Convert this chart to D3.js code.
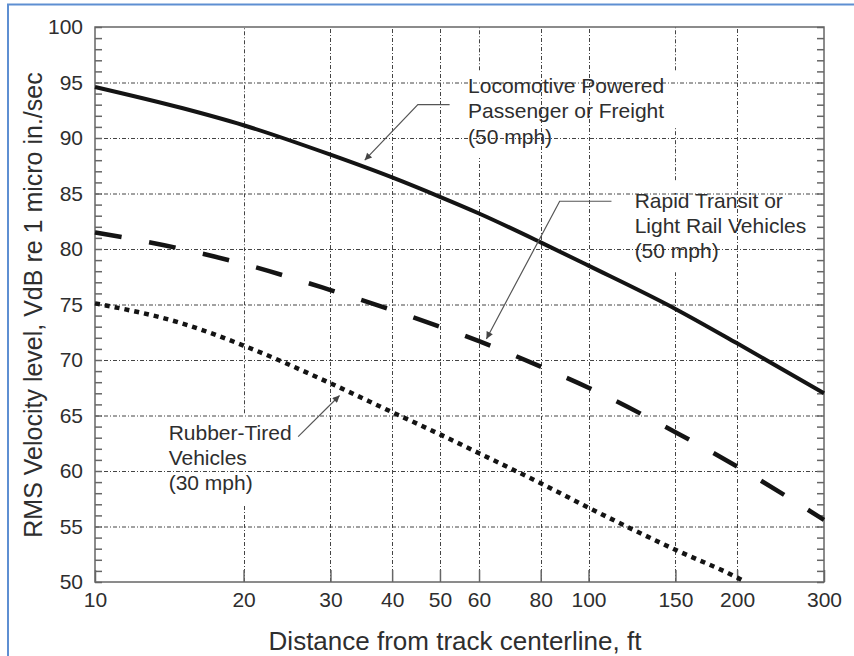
<!DOCTYPE html>
<html>
<head>
<meta charset="utf-8">
<script src="https://cdn.jsdelivr.net/npm/d3@7"></script>
<style>
  body { margin: 0; background: #fff; }
  svg { display: block; font-family: "Liberation Sans", Arial, sans-serif; }
</style>
</head>
<body>
<svg id="chart"></svg>
<script>
// values
const distances = [10, 15, 20, 30, 40, 50, 60, 80, 100, 150, 200, 300];
const locomotive = [94.6, 92.7, 91.15, 88.5, 86.45, 84.7, 83.2, 80.6, 78.5, 74.6, 71.5, 67.0];
const rapidTransit = [81.5, 80.0, 78.65, 76.3, 74.5, 73.0, 71.7, 69.4, 67.5, 63.5, 60.4, 55.6];
const rubberDistances = [10, 15, 20, 30, 40, 50, 60, 80, 100, 150, 200, 208];
const rubberTired = [75.1, 73.3, 71.3, 67.9, 65.3, 63.3, 61.6, 58.9, 56.7, 52.9, 50.4, 50.0];

const xTicks = [10, 20, 30, 40, 50, 60, 80, 100, 150, 200, 300];
const yTicks = [50, 55, 60, 65, 70, 75, 80, 85, 90, 95, 100];
const xGrid = [20, 30, 40, 50, 60, 80, 100, 150, 200];
const yGrid = [55, 60, 65, 70, 75, 80, 85, 90, 95];
// pieces of the vertical grid that are blank in the original
const gridGaps = [
    { x: 60, from: 96.1, to: 88.2 },
    { x: 150, from: 96.1, to: 90.9 },
    { x: 150, from: 86.2, to: 77.9 },
    { x: 20, from: 65.2, to: 56.9 }
];

const xTitle = 'Distance from track centerline, ft';
const yTitle = 'RMS Velocity level, VdB re 1 micro in./sec';

const labels = [
    { lines: ['Locomotive Powered', 'Passenger or Freight', '(50 mph)'], x: 57, y: 94.7 },
    { lines: ['Rapid Transit or', 'Light Rail Vehicles', '(50 mph)'], x: 124, y: 84.4 },
    { lines: ['Rubber-Tired', 'Vehicles', '(30 mph)'], x: 14.1, y: 63.5 }
];
const leaders = [
    [[52.3, 93.0], [45.1, 93.0], [35.2, 88.0]],
    [[111.3, 84.3], [87.4, 84.3], [62.1, 71.9]],
    [[25.8, 63.1], [31.3, 66.8]]
];

const width = 854, height = 656;
const margin = { top: 27, right: 30, bottom: 74, left: 95 };
const innerW = width - margin.left - margin.right;
const innerH = height - margin.top - margin.bottom;
const textColor = '#2e2e2e';

const svg = d3.select('#chart')
    .attr('width', width)
    .attr('height', height);

// light blue page border
svg.append('path')
    .attr('d', 'M8,656 L8,4.5 L854,4.5')
    .attr('fill', 'none')
    .attr('stroke', '#5e8fd2')
    .attr('stroke-width', 2);

const chart = svg.append('g')
    .attr('transform', `translate(${margin.left},${margin.top})`);

const xscale = d3.scaleLog().domain([10, 300]).range([0, innerW]);
const yscale = d3.scaleLinear().domain([50, 100]).range([innerH, 0]);

// grid
const gridStyle = g => g
    .attr('stroke', '#444')
    .attr('stroke-width', 1)
    .attr('stroke-dasharray', '4,2,1,2')
    .attr('fill', 'none');

chart.append('g').call(gridStyle)
    .selectAll('line')
    .data(yGrid)
    .join('line')
    .attr('x1', 0)
    .attr('x2', innerW)
    .attr('y1', d => yscale(d) + 0.5)
    .attr('y2', d => yscale(d) + 0.5);

const vSegments = [];
xGrid.forEach(x => {
    const gaps = gridGaps.filter(g => g.x === x).sort((a, b) => a.to - b.to);
    let lo = 50;
    gaps.forEach(g => {
        vSegments.push({ x: x, lo: lo, hi: g.to });
        lo = g.from;
    });
    vSegments.push({ x: x, lo: lo, hi: 100 });
});

chart.append('g').call(gridStyle)
    .selectAll('line')
    .data(vSegments)
    .join('line')
    .attr('x1', d => Math.round(xscale(d.x)) + 0.5)
    .attr('x2', d => Math.round(xscale(d.x)) + 0.5)
    .attr('y1', d => yscale(d.lo))
    .attr('y2', d => yscale(d.hi));

// axes
const minor = d3.range(50, 101, 1);
const yaxis = d3.axisLeft(yscale)
    .tickValues(minor)
    .tickSize(-7)
    .tickPadding(12)
    .tickFormat(d => yTicks.includes(d) ? d : '');
const yaxisRight = d3.axisRight(yscale)
    .tickValues(minor)
    .tickSize(-7)
    .tickFormat('');
const xaxis = d3.axisBottom(xscale)
    .tickValues(xTicks)
    .tickSize(-12)
    .tickPadding(10)
    .tickFormat(d3.format('d'));

const styleAxis = g => {
    g.select('.domain').remove();
    g.selectAll('.tick line').attr('stroke', '#666').attr('stroke-width', 1.5);
    g.selectAll('.tick text')
        .attr('fill', textColor)
        .style('font-size', '21px');
};

chart.append('g').call(yaxis).call(styleAxis);
chart.append('g').attr('transform', `translate(${innerW},0)`).call(yaxisRight).call(styleAxis);
chart.append('g').attr('transform', `translate(0,${innerH})`).call(xaxis).call(styleAxis);

chart.append('rect')
    .attr('width', innerW)
    .attr('height', innerH)
    .attr('fill', 'none')
    .attr('stroke', '#666')
    .attr('stroke-width', 1.5);

// curves
const line = d3.line()
    .x(d => xscale(d[0]))
    .y(d => yscale(d[1]))
    .curve(d3.curveMonotoneX);

const series = [
    { pts: d3.zip(distances, locomotive), dash: null, w: 4 },
    { pts: d3.zip(distances, rapidTransit), dash: '27,28', w: 4.5 },
    { pts: d3.zip(rubberDistances, rubberTired), dash: '5,5', w: 4.5 }
];

chart.selectAll('.series')
    .data(series)
    .join('path')
    .attr('class', 'series')
    .attr('d', d => line(d.pts))
    .attr('fill', 'none')
    .attr('stroke', '#141414')
    .attr('stroke-width', d => d.w)
    .attr('stroke-dasharray', d => d.dash);

// annotations
svg.append('defs').append('marker')
    .attr('id', 'arrow')
    .attr('viewBox', '0 0 10 10')
    .attr('refX', 10)
    .attr('refY', 5)
    .attr('markerWidth', 10)
    .attr('markerHeight', 7)
    .attr('markerUnits', 'userSpaceOnUse')
    .attr('orient', 'auto')
    .append('path')
    .attr('d', 'M0,0 L10,5 L0,10 Z')
    .attr('fill', '#444');

const leaderLine = d3.line()
    .x(d => xscale(d[0]))
    .y(d => yscale(d[1]));

chart.selectAll('.leader')
    .data(leaders)
    .join('path')
    .attr('class', 'leader')
    .attr('d', d => leaderLine(d))
    .attr('fill', 'none')
    .attr('stroke', '#555')
    .attr('stroke-width', 1.2)
    .attr('marker-end', 'url(#arrow)');

const labelGroups = chart.selectAll('.label')
    .data(labels)
    .join('text')
    .attr('class', 'label')
    .attr('x', d => xscale(d.x))
    .attr('y', d => yscale(d.y))
    .attr('fill', textColor)
    .style('font-size', '21px');

labelGroups.selectAll('tspan')
    .data(d => d.lines.map((t, i) => ({ t: t, i: i, x: d.x })))
    .join('tspan')
    .attr('x', d => xscale(d.x))
    .attr('dy', d => d.i === 0 ? '0.35em' : '1.2em')
    .text(d => d.t);

// axis titles
svg.append('text')
    .attr('x', 455)
    .attr('y', 650)
    .attr('text-anchor', 'middle')
    .attr('fill', textColor)
    .style('font-size', '26px')
    .text(xTitle);

svg.append('text')
    .attr('transform', 'rotate(-90)')
    .attr('x', -305)
    .attr('y', 42)
    .attr('text-anchor', 'middle')
    .attr('fill', textColor)
    .style('font-size', '25px')
    .text(yTitle);
</script>
</body>
</html>
